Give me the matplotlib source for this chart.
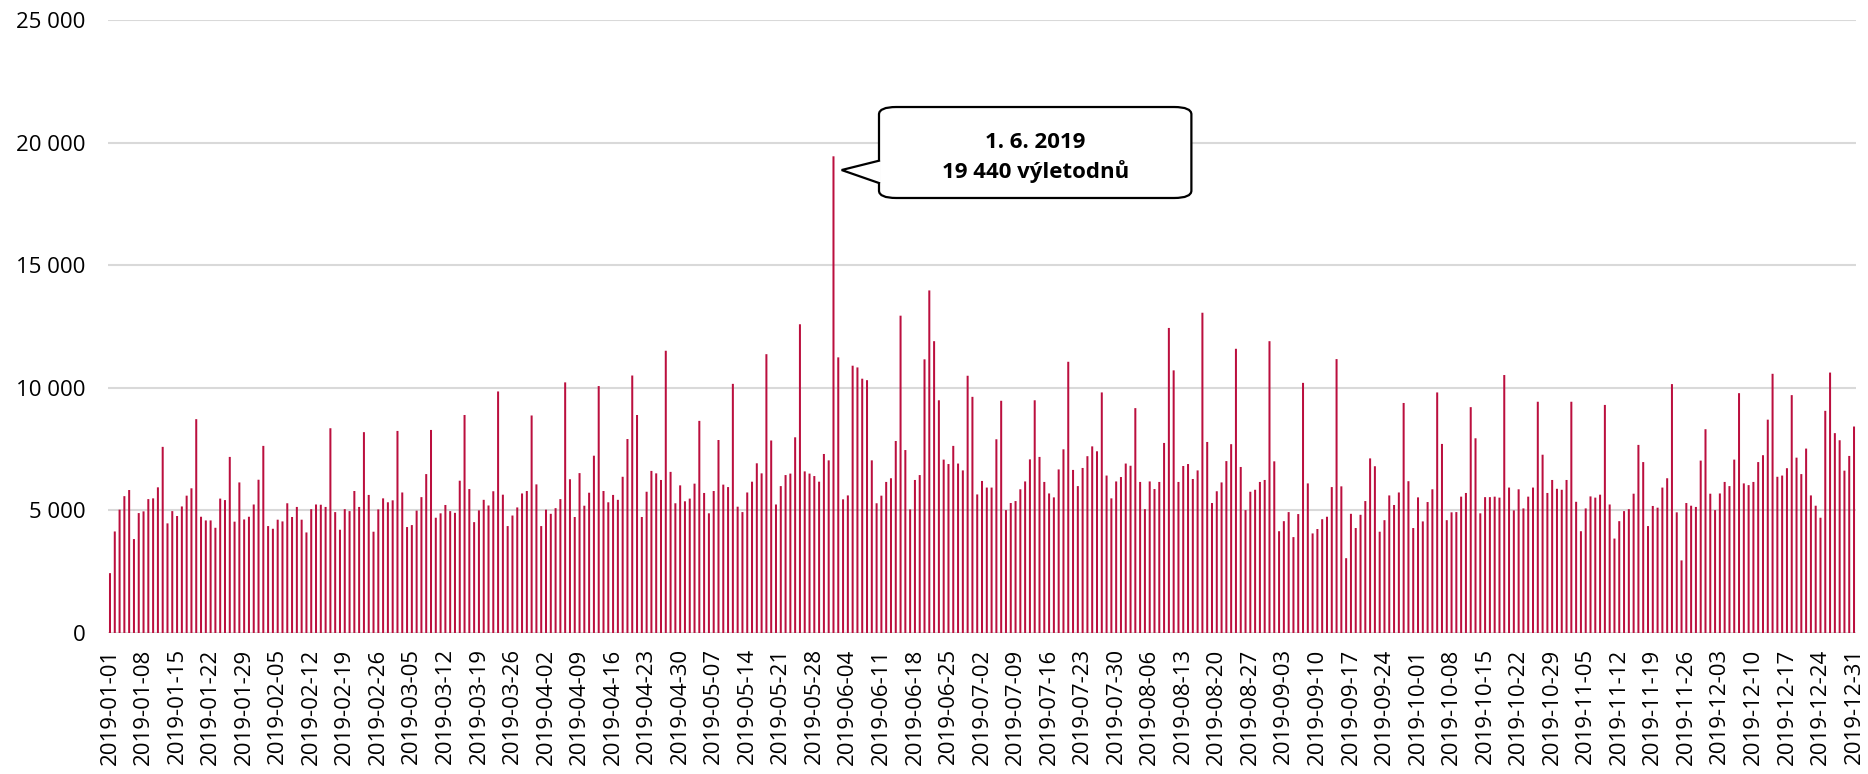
"""Daily day-trippers in 2019, bar chart with a callout on the peak day."""

import matplotlib

matplotlib.use("Agg")
import matplotlib.pyplot as plt
import numpy as np
import pandas as pd
from matplotlib.patches import FancyBboxPatch, Polygon
from matplotlib.ticker import FuncFormatter

# daily values, 2019-01-01 .. 2019-12-31
jan = [2440, 4140, 5030, 5580, 5830, 3830, 4890, 4960, 5460, 5490, 5940, 7590,
       4470, 4970, 4770, 5160, 5600, 5900, 8720, 4740, 4590, 4590, 4290, 5480,
       5420, 7180, 4540, 6140, 4630, 4740, 5240]
feb = [6250, 7630, 4360, 4250, 4620, 4550, 5290, 4730, 5140, 4620, 4100, 5050,
       5240, 5230, 5140, 8350, 4930, 4210, 5050, 4970, 5790, 5140, 8190, 5630,
       4130, 5040, 5490, 5330]
mar = [5410, 8240, 5730, 4320, 4400, 4990, 5540, 6480, 8280, 4700, 4880, 5220,
       4970, 4900, 6210, 8890, 5870, 4520, 5000, 5430, 5200, 5780, 9850, 5640,
       4360, 4790, 5120, 5690, 5790, 8870, 6060]
apr = [4360, 5030, 4860, 5090, 5460, 10220, 6270, 4730, 6520, 5190, 5720, 7230,
       10070, 5790, 5330, 5630, 5430, 6370, 7910, 10500, 8890, 4730, 5760, 6610,
       6510, 6240, 11510, 6570, 5290, 6020]
may = [5370, 5480, 6090, 8650, 5710, 4880, 5790, 7870, 6050, 5950, 10160, 5150,
       4930, 5730, 6170, 6920, 6510, 11370, 7850, 5240, 5990, 6440, 6500, 7980,
       12590, 6590, 6500, 6400, 6170, 7300, 7040]
jun = [19440, 11240, 5450, 5610, 10900, 10830, 10370, 10310, 7040, 5290, 5600,
       6160, 6310, 7830, 12940, 7460, 5040, 6240, 6440, 11160, 13970, 11900, 9490,
       7070, 6890, 7630, 6910, 6630, 10490, 9630]
jul = [5650, 6200, 5930, 5930, 7900, 9470, 5010, 5300, 5380, 5860, 6180, 7080,
       9490, 7180, 6160, 5690, 5530, 6670, 7490, 11060, 6650, 5990, 6730, 7210,
       7610, 7410, 9810, 6420, 5490, 6180, 6360]
aug = [6910, 6820, 9170, 6160, 5050, 6180, 5870, 6160, 7750, 12440, 10710, 6160,
       6810, 6890, 6280, 6630, 13060, 7790, 5300, 5780, 6140, 7010, 7700, 11590,
       6770, 5010, 5760, 5840, 6160, 6240, 11900]
sep = [7000, 4150, 4560, 4930, 3910, 4850, 10200, 6100, 4060, 4240, 4640, 4740,
       5950, 11170, 5980, 3050, 4860, 4280, 4820, 5380, 7120, 6800, 4130, 4600,
       5610, 5220, 5730, 9380, 6190, 4280]
oct_ = [5530, 4550, 5340, 5860, 9810, 7710, 4600, 4920, 4930, 5560, 5710, 9210,
        7940, 4880, 5540, 5540, 5560, 5520, 10520, 5930, 5000, 5860, 5080, 5560,
        5930, 9430, 7270, 5710, 6240, 5880, 5840]
nov = [6240, 9430, 5350, 4150, 5080, 5570, 5520, 5640, 9300, 5240, 3850, 4560,
       4970, 5050, 5680, 7670, 6970, 4360, 5180, 5110, 5930, 6310, 10150, 4920,
       2960, 5300, 5190, 5140, 7030, 8310]
dec = [5680, 5010, 5690, 6160, 5990, 7070, 9780, 6100, 6030, 6160, 6970, 7250,
       8700, 10570, 6370, 6420, 6720, 9700, 7150, 6480, 7520, 5610, 5190, 4700,
       9060, 10620, 8150, 7860, 6620, 7220, 8420]

values = jan + feb + mar + apr + may + jun + jul + aug + sep + oct_ + nov + dec
dates = pd.date_range("2019-01-01", "2019-12-31", freq="D")

callout_title = "1. 6. 2019"
callout_text = "19 440 výletodnů"

plt.rcParams["font.family"] = ["Open Sans", "DejaVu Sans"]

bar_color = "#BB0F3E"
grid_color = "#D9D9D9"

fig = plt.figure(figsize=(18.68, 7.74), dpi=100)
ax = fig.add_axes([0.0576, 0.1822, 0.9362, 0.792])

x = np.arange(len(values))
ax.bar(x, values, width=0.42, color=bar_color, zorder=3, snap=False)

ax.set_xlim(-0.5, len(values) - 0.5)
ax.set_ylim(0, 25000)
ax.set_yticks(range(0, 25001, 5000))
ax.yaxis.set_major_formatter(FuncFormatter(lambda v, _: f"{int(v):,}".replace(",", " ")))
ax.grid(axis="y", color=grid_color, linewidth=1.5, zorder=0)
ax.set_axisbelow(True)

tick_idx = x[::7]
ax.set_xticks(tick_idx)
ax.set_xticklabels([dates[i].strftime("%Y-%m-%d") for i in tick_idx], rotation=90)

for side in ["top", "right", "left", "bottom"]:
    ax.spines[side].set_visible(False)
ax.tick_params(axis="both", length=0, labelsize=16, colors="#000000")
ax.tick_params(axis="x", pad=11)
ax.tick_params(axis="y", pad=16)

# callout on the peak day
peak = int(np.argmax(values))
tip = (peak + 1.7, values[peak] - 560)
bx0, bx1 = peak + 9.5, peak + 74.7
by0, by1 = 17740, 21450
box = FancyBboxPatch((bx0, by0), bx1 - bx0, by1 - by0,
                     boxstyle="round,pad=0,rounding_size=3.6",
                     mutation_aspect=1000 / 3.6 * 0.3,
                     facecolor="white", edgecolor="black", linewidth=1.6,
                     zorder=5, clip_on=False)
ax.add_patch(box)
wedge = Polygon([(bx0 + 0.4, 19260), tip, (bx0 + 0.4, 18350)], closed=False,
                facecolor="white", edgecolor="none", zorder=6, clip_on=False)
ax.add_patch(wedge)
ax.plot([bx0, tip[0], bx0], [19260, tip[1], 18350], color="black",
        linewidth=1.6, zorder=7, clip_on=False, solid_joinstyle="miter")

cx = (bx0 + bx1) / 2
ax.text(cx, 20000, callout_title, ha="center", va="center", fontsize=16,
        fontweight="bold", zorder=8)
ax.text(cx, 18800, callout_text, ha="center", va="center", fontsize=16,
        fontweight="bold", zorder=8)

fig.savefig("out.png", dpi=100)
